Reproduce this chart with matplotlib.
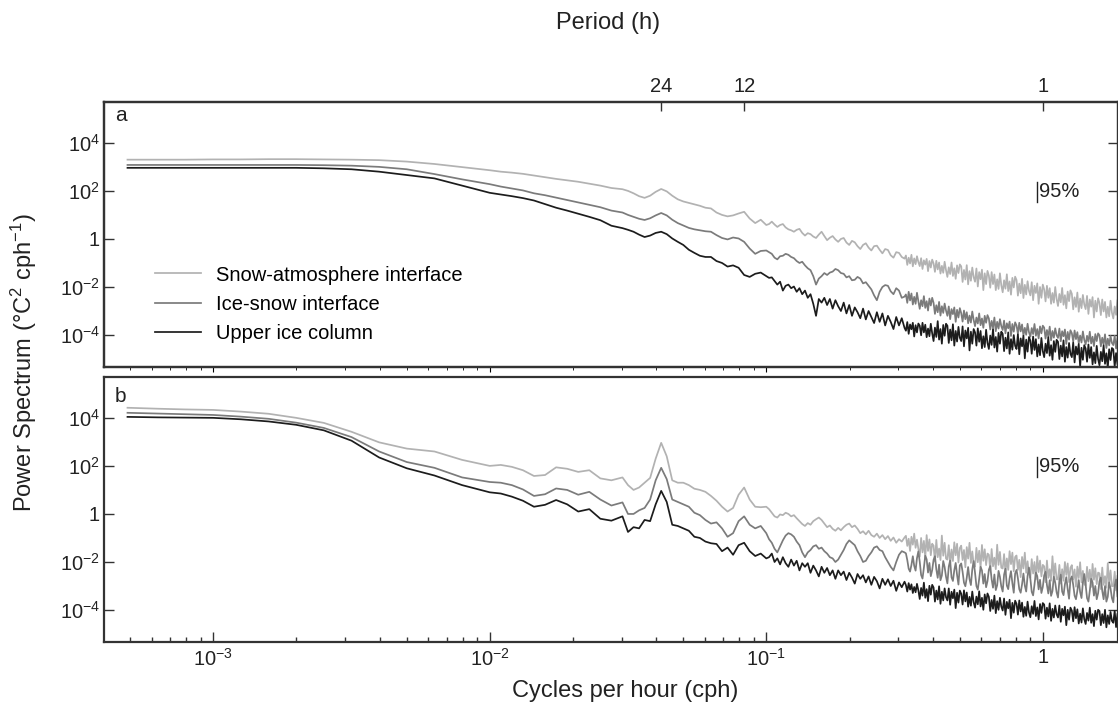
import numpy as np
import matplotlib
matplotlib.use("Agg")
import matplotlib.pyplot as plt
from matplotlib.ticker import NullLocator, FixedLocator

# ---------------- data ----------------
# log10 of frequency (cph)
log10_freq = [
    -3.31, -3.2, -3.1, -3.0, -2.9, -2.8, -2.7, -2.6, -2.5, -2.4, -2.3, -2.2, -2.1, -2.0,
    -1.96, -1.92, -1.88, -1.84, -1.80, -1.76, -1.72, -1.68, -1.64, -1.60, -1.56, -1.52,
    -1.50, -1.48, -1.46, -1.44, -1.42, -1.40, -1.38, -1.36, -1.34, -1.32,
    -1.30, -1.28, -1.26, -1.24, -1.22, -1.20, -1.18, -1.16, -1.14, -1.12,
    -1.10, -1.08, -1.06, -1.04, -1.02, -1.00,
    -0.99, -0.98, -0.97, -0.96, -0.95, -0.94, -0.93, -0.92, -0.91, -0.90,
    -0.89, -0.88, -0.87, -0.86, -0.85, -0.84, -0.83, -0.82, -0.81, -0.80,
    -0.79, -0.78, -0.77, -0.76, -0.75, -0.74, -0.73, -0.72, -0.71, -0.70,
    -0.69, -0.68, -0.67, -0.66, -0.65, -0.64, -0.63, -0.62, -0.61, -0.60,
    -0.59, -0.58, -0.57, -0.56, -0.55, -0.54, -0.53, -0.52, -0.51, -0.50,
    -0.495, -0.490, -0.485, -0.480, -0.475, -0.470, -0.465, -0.460, -0.455, -0.450,
    -0.445, -0.440, -0.435, -0.430, -0.425, -0.420, -0.415, -0.410, -0.405, -0.400,
    -0.395, -0.390, -0.385, -0.380, -0.375, -0.370, -0.365, -0.360, -0.355, -0.350,
    -0.345, -0.340, -0.335, -0.330, -0.325, -0.320, -0.315, -0.310, -0.305, -0.300,
    -0.295, -0.290, -0.285, -0.280, -0.275, -0.270, -0.265, -0.260, -0.255, -0.250,
    -0.245, -0.240, -0.235, -0.230, -0.225, -0.220, -0.215, -0.210, -0.205, -0.200,
    -0.195, -0.190, -0.185, -0.180, -0.175, -0.170, -0.165, -0.160, -0.155, -0.150,
    -0.145, -0.140, -0.135, -0.130, -0.125, -0.120, -0.115, -0.110, -0.105, -0.100,
    -0.095, -0.090, -0.085, -0.080, -0.075, -0.070, -0.065, -0.060, -0.055, -0.050,
    -0.045, -0.040, -0.035, -0.030, -0.025, -0.020, -0.015, -0.010, -0.005, 0.000,
    0.005, 0.010, 0.015, 0.020, 0.025, 0.030, 0.035, 0.040, 0.045, 0.050,
    0.055, 0.060, 0.065, 0.070, 0.075, 0.080, 0.085, 0.090, 0.095, 0.100,
    0.105, 0.110, 0.115, 0.120, 0.125, 0.130, 0.135, 0.140, 0.145, 0.150,
    0.155, 0.160, 0.165, 0.170, 0.175, 0.180, 0.185, 0.190, 0.195, 0.200,
    0.205, 0.210, 0.215, 0.220, 0.225, 0.230, 0.235, 0.240, 0.245, 0.250,
    0.255, 0.260, 0.265, 0.270,
]

# log10 of power spectrum (degC^2 cph^-1), panel a
a_snow_atm = [
    3.30, 3.30, 3.30, 3.31, 3.31, 3.32, 3.32, 3.31, 3.30, 3.28, 3.22, 3.12, 2.99, 2.86,
    2.80, 2.76, 2.71, 2.64, 2.57, 2.50, 2.44, 2.38, 2.30, 2.22, 2.12, 2.07,
    2.00, 1.90, 1.78, 1.71, 1.80, 1.96, 2.08, 1.98, 1.80, 1.65,
    1.56, 1.50, 1.44, 1.38, 1.30, 1.27, 1.10, 1.00, 0.94, 0.98,
    1.06, 1.13, 0.85, 0.66, 0.80, 0.58,
    0.62, 0.72, 0.60, 0.50, 0.58, 0.62, 0.48, 0.40, 0.36, 0.30,
    0.38, 0.42, 0.25, 0.14, 0.24, 0.20, 0.10, 0.04, 0.18, 0.30,
    0.12, -0.05, 0.05, 0.12, -0.02, -0.12, 0.00, 0.04, -0.15, -0.25,
    -0.08, -0.14, -0.30, -0.42, -0.25, -0.18, -0.36, -0.48, -0.30, -0.28,
    -0.45, -0.60, -0.42, -0.46, -0.68, -0.78, -0.55, -0.58, -0.75, -0.82,
    -0.69, -1.08, -0.78, -1.02, -0.66, -1.14, -0.81, -1.05, -0.72, -0.96,
    -1.13, -0.80, -1.25, -0.89, -1.07, -0.83, -1.34, -0.92, -1.19, -0.86,
    -1.02, -1.37, -0.91, -1.27, -0.98, -1.44, -1.12, -1.41, -0.95, -1.30,
    -1.58, -1.18, -1.46, -0.98, -1.54, -1.22, -1.66, -1.10, -1.42, -1.06,
    -1.14, -1.79, -1.29, -1.69, -1.09, -1.89, -1.34, -1.74, -1.19, -1.59,
    -1.78, -1.23, -1.98, -1.38, -1.68, -1.28, -2.13, -1.43, -1.88, -1.33,
    -1.53, -2.03, -1.38, -1.88, -1.48, -2.13, -1.68, -2.08, -1.43, -1.93,
    -2.22, -1.72, -2.07, -1.47, -2.17, -1.77, -2.32, -1.62, -2.02, -1.57,
    -1.71, -2.36, -1.86, -2.26, -1.66, -2.46, -1.91, -2.31, -1.76, -2.16,
    -2.35, -1.80, -2.55, -1.95, -2.25, -1.85, -2.70, -2.00, -2.45, -1.90,
    -2.10, -2.60, -1.95, -2.45, -2.05, -2.70, -2.25, -2.65, -2.00, -2.50,
    -2.79, -2.29, -2.64, -2.04, -2.74, -2.34, -2.89, -2.19, -2.59, -2.14,
    -2.28, -2.93, -2.43, -2.83, -2.23, -3.03, -2.48, -2.88, -2.33, -2.73,
    -2.92, -2.37, -3.12, -2.52, -2.82, -2.42, -3.27, -2.57, -3.02, -2.47,
    -2.67, -3.17, -2.52, -3.02, -2.62, -3.27, -2.82, -3.22, -2.57, -3.07,
    -3.31, -2.81, -3.16, -2.56,
]
a_ice_snow = [
    3.08, 3.08, 3.08, 3.08, 3.08, 3.08, 3.08, 3.07, 3.05, 3.00, 2.90, 2.70, 2.48, 2.28,
    2.18, 2.10, 2.02, 1.90, 1.82, 1.72, 1.62, 1.52, 1.42, 1.32, 1.18, 1.10,
    1.00, 0.92, 0.84, 0.79, 0.86, 0.98, 1.08, 0.98, 0.80, 0.66,
    0.56, 0.46, 0.40, 0.36, 0.32, 0.30, 0.16, 0.04, -0.02, 0.06,
    0.02, -0.12, -0.40, -0.62, -0.50, -0.48,
    -0.55, -0.62, -0.78, -0.85, -0.72, -0.70, -0.62, -0.66, -0.75, -0.80,
    -0.92, -1.00, -0.95, -1.10, -1.22, -1.30, -1.55, -1.90, -1.65, -1.55,
    -1.42, -1.50, -1.40, -1.36, -1.25, -1.30, -1.42, -1.45, -1.60, -1.55,
    -1.72, -1.70, -1.58, -1.65, -1.85, -1.80, -1.95, -2.10, -2.35, -2.55,
    -2.20, -2.00, -1.92, -1.95, -2.18, -2.30, -2.05, -2.15, -2.45, -2.40,
    -2.31, -2.66, -2.20, -2.56, -2.27, -2.73, -2.41, -2.70, -2.24, -2.59,
    -2.91, -2.55, -2.80, -2.38, -2.87, -2.59, -2.98, -2.48, -2.77, -2.45,
    -2.66, -3.12, -2.76, -3.05, -2.62, -3.19, -2.80, -3.08, -2.69, -2.98,
    -3.20, -2.81, -3.34, -2.92, -3.13, -2.85, -3.45, -2.95, -3.27, -2.88,
    -3.09, -3.44, -2.98, -3.34, -3.05, -3.51, -3.19, -3.48, -3.02, -3.37,
    -3.63, -3.27, -3.52, -3.10, -3.59, -3.31, -3.70, -3.20, -3.49, -3.17,
    -3.31, -3.77, -3.41, -3.70, -3.27, -3.84, -3.45, -3.73, -3.34, -3.63,
    -3.79, -3.40, -3.93, -3.51, -3.72, -3.44, -4.04, -3.54, -3.86, -3.47,
    -3.60, -3.95, -3.49, -3.85, -3.56, -4.02, -3.70, -3.99, -3.53, -3.88,
    -4.07, -3.71, -3.96, -3.54, -4.03, -3.75, -4.14, -3.64, -3.93, -3.61,
    -3.69, -4.15, -3.79, -4.08, -3.65, -4.22, -3.83, -4.11, -3.72, -4.01,
    -4.12, -3.73, -4.26, -3.84, -4.05, -3.77, -4.37, -3.87, -4.19, -3.80,
    -3.92, -4.27, -3.81, -4.17, -3.88, -4.34, -4.02, -4.31, -3.85, -4.20,
    -4.39, -4.03, -4.28, -3.86, -4.35, -4.07, -4.46, -3.96, -4.25, -3.93,
    -4.01, -4.47, -4.11, -4.40, -3.97, -4.54, -4.15, -4.43, -4.04, -4.33,
    -4.42, -4.03, -4.56, -4.14,
]
a_upper_ice = [
    2.96, 2.96, 2.96, 2.96, 2.96, 2.96, 2.96, 2.94, 2.90, 2.80, 2.66, 2.52, 2.22, 1.92,
    1.85, 1.78, 1.70, 1.60, 1.45, 1.30, 1.18, 1.05, 0.92, 0.78, 0.55, 0.45,
    0.38, 0.30, 0.18, 0.08, 0.14, 0.25, 0.30, 0.20, 0.02, -0.12,
    -0.25, -0.45, -0.58, -0.70, -0.75, -0.75, -0.92, -1.00, -1.15, -1.10,
    -1.20, -1.50, -1.58, -1.45, -1.40, -1.55,
    -1.62, -1.60, -1.75, -1.90, -1.78, -2.15, -1.95, -1.90, -2.05, -1.98,
    -2.20, -2.05, -2.30, -2.15, -2.45, -2.30, -2.70, -3.20, -2.50, -2.65,
    -2.45, -2.75, -2.50, -2.90, -2.55, -2.80, -3.00, -2.65, -3.10, -2.75,
    -3.20, -2.85, -3.05, -3.30, -2.90, -3.35, -3.00, -3.25, -3.50, -3.05,
    -3.45, -3.10, -3.60, -3.20, -3.45, -3.75, -3.25, -3.60, -3.30, -3.70,
    -3.82, -3.46, -3.95, -3.56, -3.76, -3.49, -4.06, -3.59, -3.89, -3.52,
    -3.61, -4.01, -3.49, -3.89, -3.57, -4.09, -3.73, -4.05, -3.53, -3.93,
    -4.25, -3.69, -4.08, -3.42, -4.19, -3.75, -4.36, -3.58, -4.03, -3.53,
    -3.61, -4.33, -3.77, -4.22, -3.55, -4.44, -3.83, -4.27, -3.66, -4.11,
    -4.25, -3.64, -4.47, -3.81, -4.14, -3.70, -4.64, -3.86, -4.36, -3.75,
    -3.89, -4.44, -3.72, -4.28, -3.83, -4.55, -4.05, -4.50, -3.78, -4.33,
    -4.58, -4.02, -4.41, -3.75, -4.52, -4.08, -4.69, -3.91, -4.36, -3.86,
    -3.95, -4.67, -4.11, -4.56, -3.89, -4.78, -4.17, -4.61, -4.00, -4.45,
    -4.58, -3.97, -4.80, -4.14, -4.47, -4.03, -4.97, -4.19, -4.69, -4.08,
    -4.23, -4.78, -4.06, -4.62, -4.17, -4.89, -4.39, -4.84, -4.12, -4.67,
    -4.92, -4.36, -4.75, -4.09, -4.86, -4.42, -5.03, -4.25, -4.70, -4.20,
    -4.28, -5.00, -4.44, -4.89, -4.22, -5.11, -4.50, -4.94, -4.33, -4.78,
    -4.92, -4.31, -5.14, -4.48, -4.81, -4.37, -5.31, -4.53, -5.03, -4.42,
    -4.56, -5.11, -4.39, -4.95, -4.50, -5.22, -4.72, -5.17, -4.45, -5.00,
    -5.26, -4.70, -5.09, -4.43, -5.20, -4.76, -5.37, -4.59, -5.04, -4.54,
    -4.59, -5.31, -4.75, -5.20,
]

# log10 of power spectrum, panel b
b_snow_atm = [
    4.42, 4.38, 4.35, 4.33, 4.26, 4.17, 4.00, 3.79, 3.42, 2.98, 2.72, 2.60, 2.25, 2.00,
    2.04, 1.96, 1.82, 1.58, 1.62, 1.94, 1.88, 1.75, 1.82, 1.48, 1.40, 1.52,
    1.20, 1.00, 1.10, 1.30, 1.50, 2.30, 2.96, 2.40, 1.40, 1.30,
    1.30, 1.20, 1.05, 1.00, 0.92, 0.75, 0.55, 0.30, 0.10, 0.25,
    0.80, 1.10, 0.60, 0.30, 0.28, 0.30,
    0.20, 0.05, -0.10, -0.15, -0.02, -0.05, 0.05, 0.00, -0.10, -0.05,
    -0.18, -0.30, -0.42, -0.50, -0.38, -0.45, -0.30, -0.22, -0.15, -0.25,
    -0.40, -0.55, -0.48, -0.62, -0.70, -0.58, -0.68, -0.55, -0.45, -0.40,
    -0.55, -0.48, -0.62, -0.80, -0.72, -0.85, -0.70, -0.88, -0.95, -0.82,
    -1.00, -0.88, -1.05, -0.92, -1.12, -0.98, -1.20, -1.05, -1.15, -0.98,
    -0.91, -1.33, -1.03, -1.54, -0.95, -1.28, -0.82, -1.41, -1.07, -1.45,
    -1.78, -1.00, -1.60, -1.12, -1.84, -0.88, -1.54, -1.06, -1.72, -1.24,
    -1.32, -1.98, -1.08, -1.80, -1.44, -1.92, -0.90, -1.74, -1.20, -1.86,
    -1.90, -1.30, -2.08, -1.48, -1.96, -1.18, -1.72, -1.24, -2.02, -1.42,
    -1.32, -1.92, -1.50, -2.22, -1.38, -1.86, -1.20, -2.04, -1.56, -2.10,
    -2.19, -1.41, -2.01, -1.53, -2.25, -1.29, -1.95, -1.47, -2.13, -1.65,
    -1.70, -2.36, -1.46, -2.18, -1.82, -2.30, -1.28, -2.12, -1.58, -2.24,
    -2.27, -1.67, -2.45, -1.85, -2.33, -1.55, -2.09, -1.61, -2.39, -1.79,
    -1.73, -2.33, -1.91, -2.63, -1.79, -2.27, -1.61, -2.45, -1.97, -2.51,
    -2.66, -1.88, -2.48, -2.00, -2.72, -1.76, -2.42, -1.94, -2.60, -2.12,
    -2.18, -2.84, -1.94, -2.66, -2.30, -2.78, -1.76, -2.60, -2.06, -2.72,
    -2.72, -2.12, -2.90, -2.30, -2.78, -2.00, -2.54, -2.06, -2.84, -2.24,
    -2.13, -2.73, -2.31, -3.03, -2.19, -2.67, -2.01, -2.85, -2.37, -2.91,
    -2.98, -2.20, -2.80, -2.32, -3.04, -2.08, -2.74, -2.26, -2.92, -2.44,
    -2.47, -3.13, -2.23, -2.95, -2.59, -3.07, -2.05, -2.89, -2.35, -3.01,
    -3.00, -2.40, -3.18, -2.58,
]
b_ice_snow = [
    4.21, 4.18, 4.15, 4.12, 4.05, 3.96, 3.80, 3.58, 3.20, 2.60, 2.16, 1.92, 1.52, 1.33,
    1.30, 1.20, 1.02, 0.75, 0.82, 1.06, 1.00, 0.80, 0.92, 0.60, 0.35, 0.48,
    0.00, 0.00, 0.15, 0.25, 0.60, 1.40, 1.92, 1.45, 0.60, 0.50,
    0.40, 0.30, 0.05, -0.05, -0.25, -0.40, -0.35, -0.60, -0.95, -0.80,
    -0.30, -0.10, -0.45, -0.60, -0.50, -0.80,
    -1.05, -1.20, -1.45, -1.60, -1.35, -1.10, -0.90, -0.80, -0.85, -0.95,
    -1.15, -1.30, -1.60, -1.80, -1.60, -1.50, -1.35, -1.30, -1.45, -1.40,
    -1.55, -1.65, -1.80, -1.85, -2.00, -1.90, -1.70, -1.50, -1.25, -1.10,
    -1.20, -1.30, -1.55, -1.75, -2.00, -1.95, -1.75, -1.60, -1.40, -1.35,
    -1.50, -1.55, -1.80, -2.00, -2.20, -2.35, -2.00, -1.70, -1.55, -1.60,
    -1.64, -1.92, -2.28, -2.40, -2.12, -1.76, -2.16, -2.36, -1.84, -1.56,
    -1.99, -2.54, -2.69, -2.24, -1.74, -1.89, -2.44, -2.04, -2.59, -2.34,
    -1.91, -1.76, -2.31, -2.66, -2.11, -2.76, -2.56, -1.96, -2.21, -2.61,
    -2.89, -2.19, -1.94, -2.64, -2.79, -2.34, -2.04, -2.54, -2.94, -2.14,
    -2.06, -2.41, -2.86, -3.01, -2.66, -2.21, -2.71, -2.96, -2.31, -1.96,
    -2.45, -3.00, -3.15, -2.70, -2.20, -2.35, -2.90, -2.50, -3.05, -2.80,
    -2.32, -2.17, -2.72, -3.07, -2.52, -3.17, -2.97, -2.37, -2.62, -3.02,
    -3.23, -2.53, -2.28, -2.98, -3.13, -2.68, -2.38, -2.88, -3.28, -2.48,
    -2.33, -2.68, -3.13, -3.28, -2.93, -2.48, -2.98, -3.23, -2.58, -2.23,
    -2.69, -3.24, -3.39, -2.94, -2.44, -2.59, -3.14, -2.74, -3.29, -3.04,
    -2.56, -2.41, -2.96, -3.31, -2.76, -3.41, -3.21, -2.61, -2.86, -3.26,
    -3.48, -2.78, -2.53, -3.23, -3.38, -2.93, -2.63, -3.13, -3.53, -2.73,
    -2.60, -2.95, -3.40, -3.55, -3.20, -2.75, -3.25, -3.50, -2.85, -2.50,
    -2.95, -3.50, -3.65, -3.20, -2.70, -2.85, -3.40, -3.00, -3.55, -3.30,
    -2.80, -2.65, -3.20, -3.55, -3.00, -3.65, -3.45, -2.85, -3.10, -3.50,
    -3.68, -2.98, -2.73, -3.43,
]
b_upper_ice = [
    4.04, 4.02, 4.01, 4.00, 3.94, 3.85, 3.71, 3.48, 3.05, 2.35, 1.90, 1.60, 1.20, 0.90,
    0.85, 0.72, 0.55, 0.30, 0.38, 0.58, 0.40, 0.10, 0.20, -0.20, -0.28, -0.10,
    -0.75, -0.55, -0.60, -0.25, -0.30, 0.40, 0.96, 0.50, -0.45, -0.50,
    -0.60, -0.70, -0.95, -1.00, -1.15, -1.22, -1.25, -1.55, -1.40, -1.70,
    -1.30, -1.20, -1.55, -1.75, -1.65, -1.85,
    -1.80, -1.65, -2.00, -1.85, -2.10, -1.80, -2.05, -2.20, -1.90, -2.15,
    -1.95, -2.35, -2.05, -2.20, -2.05, -2.45, -2.15, -2.35, -2.60, -2.20,
    -2.45, -2.25, -2.55, -2.35, -2.70, -2.35, -2.55, -2.40, -2.75, -2.45,
    -2.65, -2.90, -2.50, -2.70, -2.55, -2.85, -2.60, -2.95, -2.62, -2.80,
    -3.10, -2.70, -2.95, -2.72, -3.00, -2.78, -3.20, -2.85, -3.05, -2.82,
    -2.96, -3.23, -2.88, -3.15, -2.93, -3.29, -3.04, -3.26, -2.91, -3.18,
    -3.54, -3.08, -3.40, -2.86, -3.49, -3.13, -3.63, -2.99, -3.36, -2.95,
    -3.06, -3.65, -3.19, -3.56, -3.01, -3.74, -3.24, -3.60, -3.10, -3.47,
    -3.60, -3.10, -3.78, -3.24, -3.51, -3.15, -3.92, -3.28, -3.69, -3.19,
    -3.32, -3.77, -3.18, -3.64, -3.27, -3.86, -3.45, -3.82, -3.23, -3.68,
    -3.90, -3.44, -3.76, -3.22, -3.85, -3.49, -3.99, -3.35, -3.72, -3.31,
    -3.45, -4.04, -3.58, -3.95, -3.40, -4.13, -3.63, -3.99, -3.49, -3.86,
    -4.02, -3.52, -4.20, -3.66, -3.93, -3.57, -4.34, -3.70, -4.11, -3.61,
    -3.74, -4.19, -3.60, -4.06, -3.69, -4.28, -3.87, -4.24, -3.65, -4.10,
    -4.30, -3.84, -4.16, -3.62, -4.25, -3.89, -4.39, -3.75, -4.12, -3.71,
    -3.77, -4.36, -3.90, -4.27, -3.72, -4.45, -3.95, -4.31, -3.81, -4.18,
    -4.31, -3.81, -4.49, -3.95, -4.22, -3.86, -4.63, -3.99, -4.40, -3.90,
    -4.02, -4.47, -3.88, -4.34, -3.97, -4.56, -4.15, -4.52, -3.93, -4.38,
    -4.58, -4.12, -4.44, -3.90, -4.53, -4.17, -4.67, -4.03, -4.40, -3.99,
    -4.04, -4.63, -4.17, -4.54, -3.99, -4.72, -4.22, -4.58, -4.08, -4.45,
    -4.53, -4.03, -4.71, -4.17,
]

series_labels = ["Snow-atmosphere interface", "Ice-snow interface", "Upper ice column"]
series_colors = ["#b2b2b2", "#7b7b7b", "#1c1c1c"]
panel_labels = ["a", "b"]

y_ticks = [1e4, 1e2, 1, 1e-2, 1e-4]
y_ticklabels = [r"$10^{4}$", r"$10^{2}$", "1", r"$10^{-2}$", r"$10^{-4}$"]
x_ticks = [1e-3, 1e-2, 1e-1, 1]
x_ticklabels = [r"$10^{-3}$", r"$10^{-2}$", r"$10^{-1}$", "1"]
period_ticks_h = [24, 12, 1]
ci95_freq = 0.95          # cph, where the 95% bar is drawn
ci95_range = (35, 237)    # extent of the 95% confidence bar

# ---------------- style ----------------
plt.rcParams['font.family'] = ['Liberation Sans', 'DejaVu Sans']
plt.rcParams['mathtext.fontset'] = 'custom'
plt.rcParams['mathtext.rm'] = 'Liberation Sans'
plt.rcParams['mathtext.it'] = 'Liberation Sans:italic'
plt.rcParams['mathtext.bf'] = 'Liberation Sans:bold'
plt.rcParams['mathtext.default'] = 'regular'

W, H = 1118, 709
fig = plt.figure(figsize=(W / 100, H / 100), dpi=100)


def px_axes(x0, y0, x1, y1):
    return fig.add_axes([x0 / W, 1 - y1 / H, (x1 - x0) / W, (y1 - y0) / H])


ax1 = px_axes(104, 102, 1118, 367)
ax2 = px_axes(104, 377, 1118, 642)

freq = 10 ** np.array(log10_freq)
panels = [
    (ax1, [a_snow_atm, a_ice_snow, a_upper_ice]),
    (ax2, [b_snow_atm, b_ice_snow, b_upper_ice]),
]

XLIM = (10 ** -3.395, 10 ** 0.272)
YLIM = (10 ** -5.33, 10 ** 5.70)
spine_col = "#333333"
TICK_FS = 14.5

for k, (ax, series) in enumerate(panels):
    lines = []
    for vals, lab, col in zip(series, series_labels, series_colors):
        ln, = ax.plot(freq, 10 ** np.array(vals), color=col, lw=1.25, label=lab)
        lines.append(ln)
    ax.set_xscale('log')
    ax.set_yscale('log')
    ax.set_xlim(*XLIM)
    ax.set_ylim(*YLIM)
    for sp in ax.spines.values():
        sp.set_color(spine_col)
        sp.set_linewidth(1.6)
    ax.yaxis.set_major_locator(FixedLocator(y_ticks))
    ax.set_yticklabels(y_ticklabels)
    ax.yaxis.set_minor_locator(NullLocator())
    ax.tick_params(axis='y', which='major', direction='in', length=7, width=1,
                   left=True, right=True, labelsize=TICK_FS, pad=3, colors=spine_col,
                   labelcolor='#222222')
    # 95% confidence bar
    ax.plot([ci95_freq, ci95_freq], list(ci95_range), color='#222222', lw=1)
    ax.text(ci95_freq * 1.018, np.sqrt(ci95_range[0] * ci95_range[1]), "95%",
            fontsize=14.5, va='center', ha='left', color='#222222')
    ax.text(0.011, 0.93 if k == 0 else 0.905, panel_labels[k], transform=ax.transAxes,
            fontsize=15, va='baseline', ha='left', color='#222222')
    if k == 0:
        ax.tick_params(axis='x', which='both', bottom=False, top=False,
                       labelbottom=False)
        ax.legend(handles=lines, loc='upper left', bbox_to_anchor=(0.05, 0.383),
                  frameon=False, fontsize=14.5, handlelength=2.3, handletextpad=0.72,
                  labelspacing=0.5, borderpad=0, borderaxespad=0)
    else:
        ax.xaxis.set_major_locator(FixedLocator(x_ticks))
        ax.set_xticklabels(x_ticklabels)
        ax.tick_params(axis='x', which='major', direction='in', length=7, width=1,
                       top=False, labelsize=TICK_FS, pad=4, colors=spine_col,
                       labelcolor='#222222')
        ax.tick_params(axis='x', which='minor', direction='in', length=3.5, width=1,
                       top=False, colors=spine_col)

# top period axis
axt = ax1.twiny()
axt.set_xscale('log')
axt.set_xlim(*XLIM)
axt.xaxis.set_major_locator(FixedLocator([1 / p for p in period_ticks_h]))
axt.set_xticklabels([str(p) for p in period_ticks_h])
axt.xaxis.set_minor_locator(NullLocator())
axt.tick_params(axis='x', which='major', direction='in', length=6.5, width=1,
                labelsize=TICK_FS, pad=4, colors=spine_col, labelcolor='#222222')
for sp in axt.spines.values():
    sp.set_color(spine_col)
    sp.set_linewidth(1.6)

fig.text(608 / W, 1 - 23 / H, "Period (h)", ha='center', va='center', fontsize=17,
         color='#222222')
fig.text(625 / W, 1 - 691 / H, "Cycles per hour (cph)", ha='center', va='center',
         fontsize=17, color='#222222')
fig.text(24 / W, 1 - 363 / H, r"Power Spectrum (°C$^{2}$ cph$^{-1}$)", ha='center',
         va='center', rotation=90, fontsize=17, color='#222222')

fig.savefig("out.png", dpi=100)
